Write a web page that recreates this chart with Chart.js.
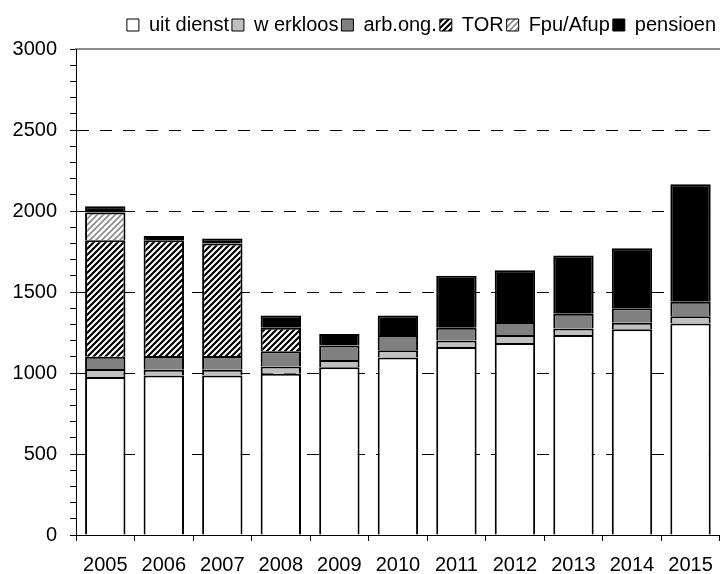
<!DOCTYPE html>
<html>
<head>
<meta charset="utf-8">
<script src="https://cdn.jsdelivr.net/npm/chart.js@4"></script>
<style>
  html, body { margin: 0; padding: 0; background: #fff; }
</style>
</head>
<body>
<canvas id="grafiekUitstroom" width="725" height="574"></canvas>
<script>
// ---- data
const jaren = ['2005', '2006', '2007', '2008', '2009', '2010', '2011', '2012', '2013', '2014', '2015'];
const uitDienst = [975, 985, 985, 995, 1035, 1095, 1160, 1185, 1235, 1270, 1305];
const werkloos = [50, 35, 35, 45, 45, 45, 40, 50, 40, 40, 45];
const arbOng = [75, 85, 85, 95, 90, 95, 80, 80, 90, 90, 90];
const tor = [720, 715, 695, 145, 0, 0, 0, 0, 0, 0, 0];
const fpuAfup = [170, 0, 0, 0, 0, 0, 0, 0, 0, 0, 0];
const pensioen = [40, 25, 30, 75, 70, 120, 320, 320, 360, 370, 725];
const yTicks = [0, 500, 1000, 1500, 2000, 2500, 3000];

// ---- arcering voor TOR en Fpu/Afup
function maakArcering(kleur, dikte) {
    const c = document.createElement('canvas');
    c.width = 6;
    c.height = 6;
    const g = c.getContext('2d');
    g.fillStyle = '#ffffff';
    g.fillRect(0, 0, 6, 6);
    g.strokeStyle = kleur;
    g.lineWidth = dikte;
    g.beginPath();
    [0, 6, 12].forEach(k => {
        g.moveTo(k + 1, -1);
        g.lineTo(k - 7, 7);
    });
    g.stroke();
    return g.createPattern(c, 'repeat');
}

Chart.defaults.font.family = "'Liberation Sans', Arial, sans-serif";
Chart.defaults.color = '#000';

function dataset(label, data, kleur) {
    return {
        label: label,
        data: data,
        backgroundColor: kleur,
        borderColor: '#000',
        borderWidth: 2,
        barPercentage: 1,
        categoryPercentage: 0.69
    };
}

// legenda een paar pixels naar links schuiven
const legendaSchuif = {
    id: 'legendaSchuif',
    afterUpdate(chart) {
        if (chart.legend && chart.legend.lineWidths) chart.legend.lineWidths[0] += 6;
    }
};

const ctx = document.getElementById('grafiekUitstroom').getContext('2d');
const grafiek = new Chart(ctx, {
    type: 'bar',
    data: {
        labels: jaren,
        datasets: [
            dataset('uit dienst', uitDienst, '#ffffff'),
            dataset('w erkloos', werkloos, '#c0c0c0'),
            dataset('arb.ong.', arbOng, '#808080'),
            dataset('TOR', tor, maakArcering('#000000', 2.2)),
            dataset('Fpu/Afup', fpuAfup, maakArcering('#8a8a8a', 1.6)),
            dataset('pensioen', pensioen, '#000000')
        ]
    },
    plugins: [legendaSchuif],
    options: {
        responsive: false,
        animation: false,
        layout: { padding: { top: 12, left: 0, right: 0, bottom: 0 } },
        plugins: {
            tooltip: { enabled: false },
            legend: {
                position: 'top',
                align: 'end',
                labels: {
                    boxWidth: 12,
                    boxHeight: 12,
                    padding: 3,
                    font: { size: 20 },
                    generateLabels: chart => Chart.defaults.plugins.legend.labels.generateLabels(chart).map(l => {
                        l.lineWidth = 1;
                        l.strokeStyle = '#000';
                        return l;
                    })
                }
            }
        },
        scales: {
            x: {
                stacked: true,
                grid: { drawOnChartArea: false, offset: true, color: '#000', tickLength: 6 },
                border: { color: '#000', width: 1 },
                ticks: { font: { size: 20 }, padding: 12, maxRotation: 0, autoSkip: false },
                afterFit: s => { s.height = 39; }
            },
            xBoven: {
                type: 'category',
                position: 'top',
                grid: { drawOnChartArea: false, drawTicks: false },
                border: { color: '#8c8c8c', width: 2 },
                ticks: { display: false },
                afterFit: s => { s.height = 4; }
            },
            y: {
                stacked: true,
                min: 0,
                max: 3000,
                border: { color: '#000', width: 1, dash: [12, 11] },
                grid: {
                    color: c => (c.tick && yTicks.includes(c.tick.value) && c.tick.value > 0 && c.tick.value < 3000) ? '#000' : 'rgba(0,0,0,0)',
                    tickColor: '#000',
                    tickLength: 6,
                    lineWidth: 1
                },
                ticks: {
                    stepSize: 100,
                    autoSkip: false,
                    padding: 13,
                    font: { size: 20 },
                    callback: v => yTicks.includes(v) ? v : ''
                },
                afterFit: s => { s.width = 76; }
            }
        }
    }
});
</script>
</body>
</html>
